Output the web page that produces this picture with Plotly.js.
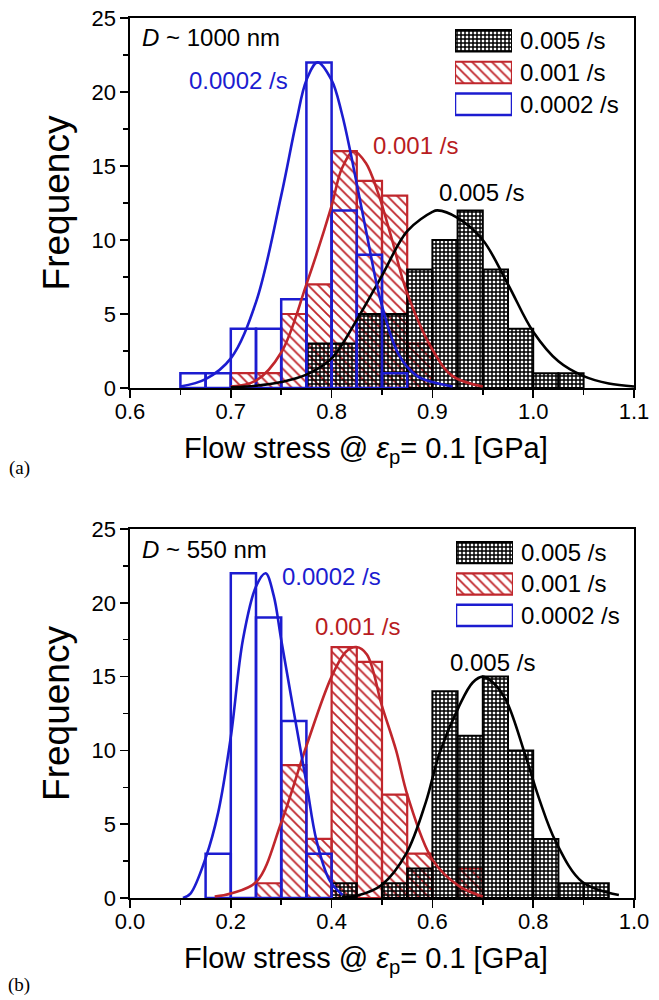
<!DOCTYPE html>
<html>
<head>
<meta charset="utf-8">
<script src="https://cdn.plot.ly/plotly-3.0.1.min.js"></script>
<style>html,body{margin:0;padding:0;background:#fff;}#chart{width:659px;height:1000px;}</style>
</head>
<body>
<div id="chart"></div>
<script>
// ---------- DATA ----------
const rateLabels = ['0.005 /s', '0.001 /s', '0.0002 /s'];
const sizeLabels = ['<i>D</i> ~ 1000 nm', '<i>D</i> ~ 550 nm'];
const panelLabels = ['(a)', '(b)'];

// Panel (a): D ~ 1000 nm, bin width 0.025 GPa (left bin edges)
const aBinWidth = 0.025;
const aBlueBins   = [0.65, 0.675, 0.70, 0.725, 0.75, 0.775, 0.80, 0.825, 0.85];
const aBlueCounts = [1, 1, 4, 4, 6, 22, 12, 9, 1];
const aRedBins    = [0.70, 0.725, 0.75, 0.775, 0.80, 0.825, 0.85, 0.875];
const aRedCounts  = [1, 1, 5, 7, 16, 14, 13, 3];
const aBlackBins  = [0.775, 0.80, 0.825, 0.85, 0.875, 0.90, 0.925, 0.95, 0.975, 1.00, 1.025];
const aBlackCounts= [3, 3, 5, 5, 8, 10, 12, 8, 4, 1, 1];
// fitted curves
const aBlueFitX  = [0.65, 0.675, 0.70, 0.725, 0.75, 0.765, 0.775, 0.786, 0.80, 0.81, 0.82, 0.834, 0.849, 0.867, 0.885, 0.90, 0.92];
const aBlueFitY  = [0.1, 0.6, 2.0, 5.8, 13.0, 18.0, 20.8, 22.0, 20.8, 18.6, 15.5, 10.7, 5.8, 2.2, 0.8, 0.4, 0.1];
const aRedFitX   = [0.70, 0.725, 0.75, 0.775, 0.80, 0.81, 0.822, 0.834, 0.846, 0.86, 0.874, 0.90, 0.92, 0.95];
const aRedFitY   = [0.1, 0.5, 2.4, 7.0, 12.3, 14.8, 16.0, 15.2, 13.2, 10.0, 6.6, 2.6, 0.8, 0.1];
const aBlackFitX = [0.70, 0.725, 0.75, 0.775, 0.80, 0.825, 0.85, 0.875, 0.90, 0.905, 0.925, 0.95, 0.975, 1.00, 1.025, 1.05, 1.075, 1.10];
const aBlackFitY = [0.05, 0.15, 0.4, 0.9, 2.0, 4.6, 7.6, 10.6, 11.9, 12.0, 11.5, 10.0, 7.0, 3.8, 1.8, 0.8, 0.3, 0.1];

// Panel (b): D ~ 550 nm, bin width 0.05 GPa (left bin edges)
const bBinWidth = 0.05;
const bBlueBins   = [0.15, 0.20, 0.25, 0.30, 0.35];
const bBlueCounts = [3, 22, 19, 12, 3];
const bRedBins    = [0.25, 0.30, 0.35, 0.40, 0.45, 0.50, 0.55, 0.65];
const bRedCounts  = [1, 9, 4, 17, 16, 7, 3, 2];
const bBlackBins  = [0.40, 0.50, 0.55, 0.60, 0.65, 0.70, 0.75, 0.80, 0.85, 0.90];
const bBlackCounts= [1, 1, 2, 14, 11, 15, 10, 4, 1, 1];
const bBlueFitX  = [0.105, 0.12, 0.15, 0.175, 0.20, 0.224, 0.25, 0.269, 0.285, 0.30, 0.323, 0.35, 0.37, 0.396, 0.422];
const bBlueFitY  = [0.0, 0.3, 2.7, 5.8, 10.9, 17.5, 21.1, 22.0, 20.5, 17.5, 13.0, 7.8, 3.9, 1.2, 0.2];
const bRedFitX   = [0.168, 0.20, 0.251, 0.30, 0.35, 0.40, 0.429, 0.449, 0.47, 0.50, 0.528, 0.551, 0.60, 0.653, 0.70];
const bRedFitY   = [0.1, 0.3, 1.1, 5.1, 10.3, 15.0, 16.7, 17.0, 16.5, 13.0, 10.0, 6.9, 2.6, 0.8, 0.1];
const bBlackFitX = [0.42, 0.455, 0.50, 0.548, 0.587, 0.614, 0.653, 0.68, 0.70, 0.72, 0.746, 0.785, 0.812, 0.845, 0.897, 0.97];
const bBlackFitY = [0.05, 0.2, 0.9, 3.0, 6.5, 9.8, 13.0, 14.6, 15.0, 14.6, 13.4, 9.6, 6.7, 3.8, 1.1, 0.2];

// ---------- STYLES ----------
const BLUE = '#1c1cd0', RED = '#c0262c', BLACK = '#000000', RED_TXT = '#b81c22';
const sans = '"Liberation Sans", Arial, sans-serif';
const serif = '"Liberation Serif", "Times New Roman", serif';

const markerStyles = {
  black: {color: BLACK, line: {color: BLACK, width: 2}, pattern: {shape: '+', size: 4, solidity: 0.6, fillmode: 'replace'}},
  red:   {color: RED, line: {color: RED, width: 2.2}, pattern: {shape: '\\', size: 7, solidity: 0.27, fillmode: 'replace'}},
  blue:  {color: 'rgba(0,0,0,0)', line: {color: BLUE, width: 2.5}}
};

function bars(bins, counts, w, style, xa, ya) {
  return {type: 'bar', x: bins, y: counts, width: w, offset: 0,
          marker: markerStyles[style], xaxis: xa, yaxis: ya, showlegend: false, hoverinfo: 'x+y'};
}
function fit(xs, ys, color, xa, ya) {
  return {type: 'scatter', mode: 'lines', x: xs, y: ys, line: {color: color, width: 2.6, shape: 'spline', smoothing: 1},
          xaxis: xa, yaxis: ya, showlegend: false, hoverinfo: 'skip'};
}
function swatches(xa, ya) {
  const st = ['black', 'red', 'blue'];
  return rateLabels.map((lab, i) => ({type: 'bar', orientation: 'h', y: [lab], x: [1], base: 0, width: 0.68,
    marker: markerStyles[st[i]], xaxis: xa, yaxis: ya, showlegend: false, hoverinfo: 'skip'}));
}

const data = [
  bars(aRedBins, aRedCounts, aBinWidth, 'red', 'x', 'y'),
  fit(aRedFitX, aRedFitY, RED, 'x', 'y'),
  bars(aBlackBins, aBlackCounts, aBinWidth, 'black', 'x', 'y'),
  fit(aBlackFitX, aBlackFitY, BLACK, 'x', 'y'),
  bars(aBlueBins, aBlueCounts, aBinWidth, 'blue', 'x', 'y'),
  fit(aBlueFitX, aBlueFitY, BLUE, 'x', 'y'),

  bars(bRedBins, bRedCounts, bBinWidth, 'red', 'x2', 'y2'),
  fit(bRedFitX, bRedFitY, RED, 'x2', 'y2'),
  bars(bBlackBins, bBlackCounts, bBinWidth, 'black', 'x2', 'y2'),
  fit(bBlackFitX, bBlackFitY, BLACK, 'x2', 'y2'),
  bars(bBlueBins, bBlueCounts, bBinWidth, 'blue', 'x2', 'y2'),
  fit(bBlueFitX, bBlueFitY, BLUE, 'x2', 'y2'),
  ...swatches('x3', 'y3'),
  ...swatches('x4', 'y4')
];

const W = 659, H = 1000;
const xdom = [130 / W, 634 / W];
function ydom(topPx, botPx) { return [1 - botPx / H, 1 - topPx / H]; }

const xTitle = 'Flow stress @ <i>ε</i><sub>p</sub>= 0.1 [GPa]&nbsp;&nbsp;&nbsp;&nbsp;';
function xAxis(range, dtick, anchor) {
  return {domain: xdom, range: range, anchor: anchor, dtick: dtick, tick0: 0, tickformat: '.1f',
    ticks: 'outside', ticklen: 8, tickwidth: 1.5, tickcolor: '#000', ticklabelstandoff: -5,
    minor: {dtick: dtick / 2, ticks: 'outside', ticklen: 5, tickwidth: 1.5, tickcolor: '#000', showgrid: false},
    showline: true, linecolor: '#000', linewidth: 1.6, mirror: true, showgrid: false, zeroline: false,
    tickfont: {family: sans, size: 22, color: '#000'},
    title: {text: xTitle, font: {family: sans, size: 29, color: '#000'}, standoff: 14}};
}
function yAxis(dom, anchor) {
  return {domain: dom, range: [0, 25], anchor: anchor, dtick: 5, ticks: 'outside', ticklen: 8, tickwidth: 1.5, tickcolor: '#000',
    minor: {dtick: 2.5, ticks: 'outside', ticklen: 5, tickwidth: 1.5, tickcolor: '#000', showgrid: false},
    showline: true, linecolor: '#000', linewidth: 1.6, mirror: true, showgrid: false, zeroline: false,
    tickfont: {family: sans, size: 22, color: '#000'},
    title: {text: 'Frequency', font: {family: sans, size: 37, color: '#000'}, standoff: 10}};
}
function legX(l, r) { return {domain: [l / W, r / W], range: [0, 1], visible: false, fixedrange: true}; }
function legY(dom, anchor) {
  return {domain: dom, anchor: anchor, type: 'category', categoryarray: rateLabels, categoryorder: 'array',
    autorange: 'reversed', side: 'right', showline: false, showgrid: false, zeroline: false, ticks: '',
    ticklabelstandoff: 7, tickfont: {family: sans, size: 24, color: '#000'}, fixedrange: true};
}

const ann = (x, y, text, color, xref, yref, xanchor) => ({x: x, y: y, xref: xref, yref: yref, text: text, showarrow: false,
  xanchor: xanchor || 'center', yanchor: 'middle', font: {family: sans, size: 24, color: color}});

const layout = {
  width: W, height: H, margin: {l: 0, r: 0, t: 0, b: 0},
  paper_bgcolor: '#fff', plot_bgcolor: 'rgba(0,0,0,0)',
  barmode: 'overlay', showlegend: false,
  xaxis: xAxis([0.6, 1.1], 0.1, 'y'),
  yaxis: yAxis(ydom(18, 388), 'x'),
  xaxis2: xAxis([0, 1], 0.2, 'y2'),
  yaxis2: yAxis(ydom(529, 898), 'x2'),
  xaxis3: Object.assign(legX(455, 512), {anchor: 'y3'}),
  yaxis3: legY(ydom(25, 120), 'x3'),
  xaxis4: Object.assign(legX(456, 513), {anchor: 'y4'}),
  yaxis4: legY(ydom(537, 631), 'x4'),
  annotations: [
    ann(0.6099, 23.65, sizeLabels[0], '#000', 'x', 'y', 'left'),
    ann(0.708, 20.8, rateLabels[2], BLUE, 'x', 'y'),
    ann(0.883, 16.4, rateLabels[1], RED_TXT, 'x', 'y'),
    ann(0.9485, 13.2, rateLabels[0], '#000', 'x', 'y'),
    ann(0.0198, 23.6, sizeLabels[1], '#000', 'x2', 'y2', 'left'),
    ann(0.400, 21.76, rateLabels[2], BLUE, 'x2', 'y2'),
    ann(0.4515, 18.37, rateLabels[1], RED_TXT, 'x2', 'y2'),
    ann(0.7188, 15.93, rateLabels[0], '#000', 'x2', 'y2'),
    {x: 19 / W, y: 1 - 468 / H, xref: 'paper', yref: 'paper', text: panelLabels[0], showarrow: false,
     xanchor: 'center', yanchor: 'middle', font: {family: serif, size: 19, color: '#000'}},
    {x: 19 / W, y: 1 - 985 / H, xref: 'paper', yref: 'paper', text: panelLabels[1], showarrow: false,
     xanchor: 'center', yanchor: 'middle', font: {family: serif, size: 19, color: '#000'}}
  ]
};

Plotly.newPlot('chart', data, layout, {displayModeBar: false, staticPlot: true});
</script>
</body>
</html>
